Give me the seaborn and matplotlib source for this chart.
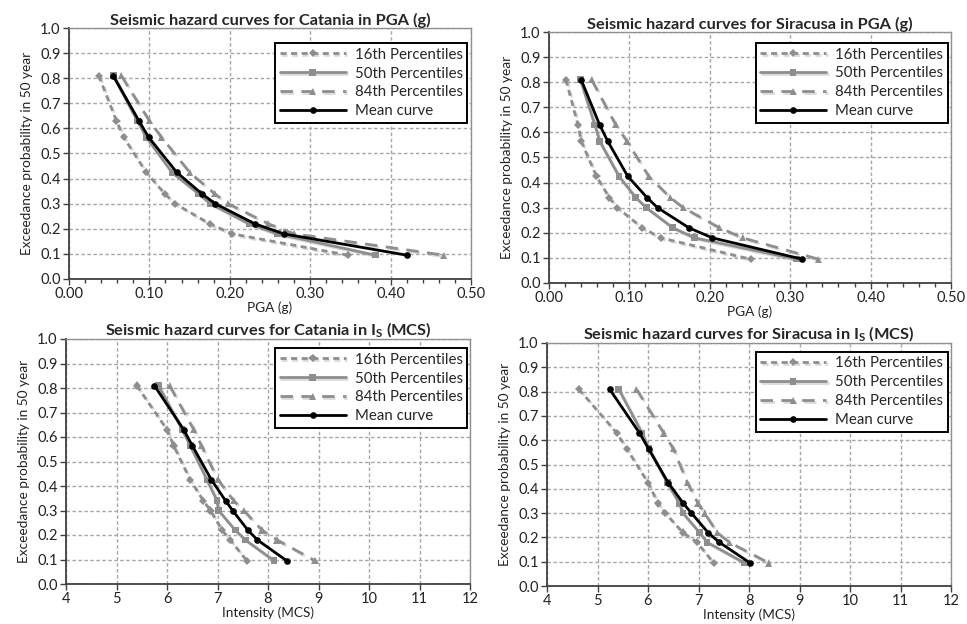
import numpy as np
import pandas as pd
import seaborn as sns
import matplotlib
matplotlib.use("Agg")
import matplotlib.pyplot as plt
import matplotlib.patheffects as pe
from matplotlib.ticker import MultipleLocator, FormatStrFormatter

# Exceedance probabilities in 50 years (shared by every curve)
prob = [0.81, 0.63, 0.565, 0.425, 0.34, 0.30, 0.22, 0.18, 0.095]

# Catania, PGA (g)
cat_pga_p16 = [0.037, 0.059, 0.068, 0.096, 0.119, 0.132, 0.175, 0.203, 0.347]
cat_pga_p50 = [0.055, 0.085, 0.096, 0.128, 0.161, 0.176, 0.224, 0.259, 0.381]
cat_pga_p84 = [0.065, 0.100, 0.115, 0.150, 0.181, 0.198, 0.248, 0.280, 0.466]
cat_pga_mean = [0.055, 0.087, 0.099, 0.134, 0.165, 0.182, 0.231, 0.267, 0.420]

# Siracusa, PGA (g)
sir_pga_p16 = [0.021, 0.036, 0.040, 0.059, 0.075, 0.085, 0.116, 0.139, 0.251]
sir_pga_p50 = [0.039, 0.057, 0.063, 0.087, 0.108, 0.121, 0.154, 0.181, 0.308]
sir_pga_p84 = [0.053, 0.083, 0.097, 0.124, 0.151, 0.167, 0.212, 0.241, 0.335]
sir_pga_mean = [0.040, 0.063, 0.073, 0.098, 0.122, 0.135, 0.174, 0.203, 0.315]

# Catania, intensity (MCS)
cat_mcs_p16 = [5.40, 6.00, 6.13, 6.46, 6.72, 6.86, 7.09, 7.25, 7.58]
cat_mcs_p50 = [5.83, 6.30, 6.46, 6.79, 6.99, 7.02, 7.35, 7.55, 8.12]
cat_mcs_p84 = [6.05, 6.53, 6.68, 7.01, 7.32, 7.52, 7.88, 8.18, 8.93]
cat_mcs_mean = [5.75, 6.33, 6.50, 6.88, 7.16, 7.30, 7.60, 7.79, 8.37]

# Siracusa, intensity (MCS)
sir_mcs_p16 = [4.63, 5.38, 5.58, 6.00, 6.20, 6.34, 6.69, 6.97, 7.30]
sir_mcs_p50 = [5.42, 5.88, 6.02, 6.38, 6.62, 6.69, 7.02, 7.17, 7.91]
sir_mcs_p84 = [5.77, 6.31, 6.50, 6.78, 6.99, 7.12, 7.37, 7.61, 8.39]
sir_mcs_mean = [5.24, 5.83, 6.01, 6.40, 6.70, 6.86, 7.19, 7.41, 8.02]

series_labels = ["16th Percentiles", "50th Percentiles", "84th Percentiles", "Mean curve"]

panels = [
    dict(title="Seismic hazard curves for Catania in PGA (g)", xlabel="PGA (g)",
         data=[cat_pga_p16, cat_pga_p50, cat_pga_p84, cat_pga_mean], kind="pga",
         box=(69, 28, 471, 279), leg=(0.991, 0.94)),
    dict(title="Seismic hazard curves for Siracusa in PGA (g)", xlabel="PGA (g)",
         data=[sir_pga_p16, sir_pga_p50, sir_pga_p84, sir_pga_mean], kind="pga",
         box=(549, 32, 951, 283), leg=(0.992, 0.956)),
    dict(title=r"Seismic hazard curves for Catania in I$_\mathregular{S}$ (MCS)",
         xlabel="Intensity (MCS)",
         data=[cat_mcs_p16, cat_mcs_p50, cat_mcs_p84, cat_mcs_mean], kind="mcs",
         box=(66, 339, 470, 584), leg=(0.993, 0.963)),
    dict(title=r"Seismic hazard curves for Siracusa in I$_\mathregular{S}$ (MCS)",
         xlabel="Intensity (MCS)",
         data=[sir_mcs_p16, sir_mcs_p50, sir_mcs_p84, sir_mcs_mean], kind="mcs",
         box=(547, 343, 951, 586), leg=(0.992, 0.963)),
]

sns.set_theme(style="white")
plt.rcParams["font.family"] = ["Lato", "DejaVu Sans"]
plt.rcParams["mathtext.default"] = "regular"

GRAY = "#8e8e8e"
styles = [
    dict(color=GRAY, linestyle=(0, (2.2, 1.6)), marker="D", markersize=4.2, lw=2.0),
    dict(color=GRAY, linestyle="-", marker="s", markersize=4.8, lw=2.0),
    dict(color=GRAY, linestyle=(0, (4.5, 3.0)), marker="^", markersize=5.2, lw=2.0),
    dict(color="black", linestyle="-", marker="o", markersize=4.8, lw=2.0),
]
shadow = [pe.SimpleLineShadow(offset=(1.2, -1.2), shadow_color="#9a9a9a", alpha=0.35),
          pe.Normal()]

W, H = 967, 624
fig = plt.figure(figsize=(W / 100, H / 100), dpi=100)

for p in panels:
    l, t, r, b = p["box"]
    ax = fig.add_axes([l / W, 1 - b / H, (r - l) / W, (b - t) / H])
    df = pd.DataFrame({"x": np.concatenate(p["data"]),
                       "y": prob * 4,
                       "series": np.repeat(series_labels, len(prob))})
    for lab, st in zip(series_labels, styles):
        sub = df[df["series"] == lab]
        sns.lineplot(data=sub, x="x", y="y", ax=ax, sort=False, estimator=None,
                     color=st["color"], linestyle=st["linestyle"], marker=st["marker"],
                     markersize=st["markersize"], markeredgewidth=0,
                     markerfacecolor=st["color"], linewidth=st["lw"], label=lab,
                     path_effects=shadow if st["color"] != "black" else None,
                     zorder=4 if st["color"] == "black" else 3)

    ax.set_ylim(0, 1.0)
    ax.yaxis.set_major_locator(MultipleLocator(0.1))
    ax.yaxis.set_major_formatter(FormatStrFormatter("%.1f"))
    if p["kind"] == "pga":
        ax.set_xlim(0, 0.5)
        ax.xaxis.set_major_locator(MultipleLocator(0.1))
        ax.xaxis.set_minor_locator(MultipleLocator(0.02))
        ax.xaxis.set_major_formatter(FormatStrFormatter("%.2f"))
    else:
        ax.set_xlim(4, 12)
        ax.xaxis.set_major_locator(MultipleLocator(1))
        ax.xaxis.set_major_formatter(FormatStrFormatter("%d"))

    ax.grid(True, which="major", color="#a6a6a6", linestyle=(0, (2.5, 1.8)), lw=1.0)
    ax.set_axisbelow(True)
    ax.tick_params(axis="both", which="major", direction="out", length=4, width=1,
                   color="#404040", labelsize=10.5, labelcolor="#222222", pad=2,
                   bottom=True, left=True)
    ax.tick_params(axis="x", which="minor", direction="out", length=3, width=1,
                   color="#404040", bottom=True)
    for side in ("left", "bottom"):
        ax.spines[side].set_color("#404040")
        ax.spines[side].set_linewidth(1.3)
    for side in ("top", "right"):
        ax.spines[side].set_color("#909090")
        ax.spines[side].set_linewidth(1.0)

    ax.set_title(p["title"], fontsize=11.8, fontweight="bold", pad=2)
    ax.set_xlabel(p["xlabel"], fontsize=9.8, labelpad=0, color="#222222")
    ax.set_ylabel("Exceedance probability in 50 year", fontsize=9.8, labelpad=5,
                  color="#222222")

    leg = ax.legend(loc="upper right", bbox_to_anchor=p["leg"], fontsize=10.8,
                    frameon=True, fancybox=False, edgecolor="black", framealpha=1,
                    handlelength=4.4, labelspacing=0.33, borderpad=0.3,
                    handletextpad=0.6, borderaxespad=0)
    leg.get_frame().set_linewidth(1.4)

fig.savefig("out.png", dpi=100)
